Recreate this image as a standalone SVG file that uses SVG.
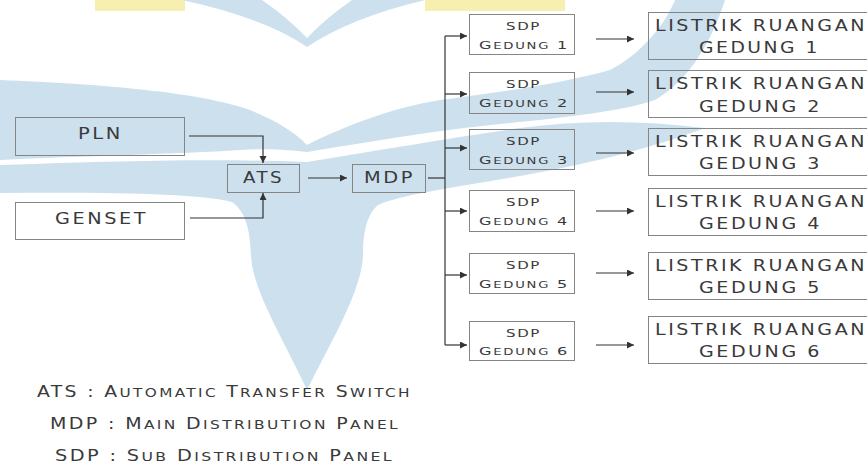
<svg xmlns="http://www.w3.org/2000/svg" width="867" height="466" viewBox="0 0 867 466">
<style>
.wm{fill:#cde0ee;stroke:none}
.wy{fill:#f7efb0;stroke:none}
.box{fill:none;stroke:#858585;stroke-width:1}
.t{font-family:"DejaVu Sans",sans-serif;fill:#3a3a3a;letter-spacing:2px}
.s{letter-spacing:1.2px}
.c{fill:none;stroke:#333;stroke-width:1.2}
</style>
<defs>
<marker id="ah" markerUnits="userSpaceOnUse" markerWidth="8" markerHeight="8" refX="7" refY="3.5" orient="auto">
<path d="M0,0 L7,3.5 L0,7 Z" fill="#333"/>
</marker>
</defs>
<rect width="867" height="466" fill="#ffffff"/>
<g id="watermark">
<rect class="wy" x="95" y="0" width="90" height="11"/>
<rect class="wy" x="425" y="0" width="140" height="11"/>
<path class="wm" d="M182,0 L262,0 Q288,18 307,38 Q326,18 352,0 L425,0 Q350,18 307,47 Q265,18 182,0 Z"/>
<path class="wm" d="M0,80 C100,84 200,92 250,110 C275,120 295,132 307,145 L307,152 C290,150 270,148 240,150 C180,154 80,156 0,160 Z"/>
<path class="wm" d="M307,145 C340,128 390,108 440,100 C500,92 560,84 610,70 C640,55 665,25 675,0 L725,0 C712,40 690,80 655,100 C620,112 560,118 500,124 C440,130 380,140 307,152 Z"/>
<path class="wm" d="M0,165 C100,162 200,158 307,162 C380,150 450,138 520,128 C580,120 640,120 705,128 C660,145 600,162 520,176 C450,188 400,195 378,205 C366,215 363,235 363,255 C362,290 332,340 307,390 C284,340 252,290 251,255 C250,230 246,212 232,202 C200,193 100,192 0,193 Z"/>
</g>
<g id="connectors">
<path class="c" d="M189,136 H263 V163" marker-end="url(#ah)"/>
<path class="c" d="M190,218 H263 V193" marker-end="url(#ah)"/>
<path class="c" d="M308,178 H347" marker-end="url(#ah)"/>
<path class="c" d="M428,178 H445"/>
<path class="c" d="M445,36 V345"/>
<path class="c" d="M445,36 H467" marker-end="url(#ah)"/>
<path class="c" d="M445,94 H467" marker-end="url(#ah)"/>
<path class="c" d="M445,148 H467" marker-end="url(#ah)"/>
<path class="c" d="M445,211 H467" marker-end="url(#ah)"/>
<path class="c" d="M445,275 H467" marker-end="url(#ah)"/>
<path class="c" d="M445,345 H467" marker-end="url(#ah)"/>
<path class="c" d="M596,39 H634" marker-end="url(#ah)"/>
<path class="c" d="M596,92 H634" marker-end="url(#ah)"/>
<path class="c" d="M596,153 H634" marker-end="url(#ah)"/>
<path class="c" d="M596,211 H634" marker-end="url(#ah)"/>
<path class="c" d="M596,273 H634" marker-end="url(#ah)"/>
<path class="c" d="M596,345 H634" marker-end="url(#ah)"/>
</g>
<g id="pln"><rect class="box" x="15.5" y="117.5" width="169" height="38"/><text class="t" x="78" y="139" font-size="15" textLength="45" lengthAdjust="spacingAndGlyphs">PLN</text></g>
<g id="genset"><rect class="box" x="15.5" y="202.5" width="169" height="37"/><text class="t" x="55" y="224" font-size="15" textLength="93" lengthAdjust="spacingAndGlyphs">GENSET</text></g>
<g id="ats"><rect class="box" x="227.5" y="164.5" width="72" height="28"/><text class="t" x="243" y="183" font-size="15" textLength="41" lengthAdjust="spacingAndGlyphs">ATS</text></g>
<g id="mdp"><rect class="box" x="352.5" y="164.5" width="73" height="28"/><text class="t" x="364" y="183" font-size="15" textLength="51" lengthAdjust="spacingAndGlyphs">MDP</text></g>

<g id="sdp1"><rect class="box" x="469.5" y="14.5" width="105" height="40"/><text class="t s" x="506" y="30" font-size="11" textLength="35" lengthAdjust="spacingAndGlyphs">SDP</text><text class="t s" x="479" y="49" font-size="11" textLength="90" lengthAdjust="spacingAndGlyphs">G<tspan font-size="9">EDUNG</tspan> 1</text></g>
<g id="sdp2"><rect class="box" x="469.5" y="72.5" width="105" height="41"/><text class="t s" x="506" y="88" font-size="11" textLength="35" lengthAdjust="spacingAndGlyphs">SDP</text><text class="t s" x="479" y="107" font-size="11" textLength="90" lengthAdjust="spacingAndGlyphs">G<tspan font-size="9">EDUNG</tspan> 2</text></g>
<g id="sdp3"><rect class="box" x="469.5" y="129.5" width="105" height="40"/><text class="t s" x="506" y="145" font-size="11" textLength="35" lengthAdjust="spacingAndGlyphs">SDP</text><text class="t s" x="479" y="164" font-size="11" textLength="90" lengthAdjust="spacingAndGlyphs">G<tspan font-size="9">EDUNG</tspan> 3</text></g>
<g id="sdp4"><rect class="box" x="469.5" y="190.5" width="105" height="41"/><text class="t s" x="506" y="206" font-size="11" textLength="35" lengthAdjust="spacingAndGlyphs">SDP</text><text class="t s" x="479" y="225" font-size="11" textLength="90" lengthAdjust="spacingAndGlyphs">G<tspan font-size="9">EDUNG</tspan> 4</text></g>
<g id="sdp5"><rect class="box" x="469.5" y="253.5" width="105" height="40"/><text class="t s" x="506" y="269" font-size="11" textLength="35" lengthAdjust="spacingAndGlyphs">SDP</text><text class="t s" x="479" y="288" font-size="11" textLength="90" lengthAdjust="spacingAndGlyphs">G<tspan font-size="9">EDUNG</tspan> 5</text></g>
<g id="sdp6"><rect class="box" x="469.5" y="321.5" width="105" height="39"/><text class="t s" x="506" y="337" font-size="11" textLength="35" lengthAdjust="spacingAndGlyphs">SDP</text><text class="t s" x="479" y="355" font-size="11" textLength="90" lengthAdjust="spacingAndGlyphs">G<tspan font-size="9">EDUNG</tspan> 6</text></g>

<g id="lr1"><rect class="box" x="648.5" y="12.5" width="220" height="47"/><text class="t" x="655" y="31" font-size="15" textLength="212" lengthAdjust="spacingAndGlyphs">LISTRIK RUANGAN</text><text class="t" x="699" y="53" font-size="15" textLength="121" lengthAdjust="spacingAndGlyphs">GEDUNG 1</text></g>
<g id="lr2"><rect class="box" x="648.5" y="70.5" width="220" height="47"/><text class="t" x="655" y="89" font-size="15" textLength="212" lengthAdjust="spacingAndGlyphs">LISTRIK RUANGAN</text><text class="t" x="699" y="112" font-size="15" textLength="123" lengthAdjust="spacingAndGlyphs">GEDUNG 2</text></g>
<g id="lr3"><rect class="box" x="648.5" y="128.5" width="220" height="47"/><text class="t" x="655" y="147" font-size="15" textLength="212" lengthAdjust="spacingAndGlyphs">LISTRIK RUANGAN</text><text class="t" x="699" y="169" font-size="15" textLength="123" lengthAdjust="spacingAndGlyphs">GEDUNG 3</text></g>
<g id="lr4"><rect class="box" x="648.5" y="188.5" width="220" height="47"/><text class="t" x="655" y="207" font-size="15" textLength="212" lengthAdjust="spacingAndGlyphs">LISTRIK RUANGAN</text><text class="t" x="699" y="229" font-size="15" textLength="123" lengthAdjust="spacingAndGlyphs">GEDUNG 4</text></g>
<g id="lr5"><rect class="box" x="648.5" y="252.5" width="220" height="47"/><text class="t" x="655" y="271" font-size="15" textLength="212" lengthAdjust="spacingAndGlyphs">LISTRIK RUANGAN</text><text class="t" x="699" y="293" font-size="15" textLength="123" lengthAdjust="spacingAndGlyphs">GEDUNG 5</text></g>
<g id="lr6"><rect class="box" x="648.5" y="316.5" width="220" height="47"/><text class="t" x="655" y="335" font-size="15" textLength="212" lengthAdjust="spacingAndGlyphs">LISTRIK RUANGAN</text><text class="t" x="699" y="357" font-size="15" textLength="123" lengthAdjust="spacingAndGlyphs">GEDUNG 6</text></g>

<g id="legend">
<text class="t" x="37" y="397" font-size="16" textLength="375" lengthAdjust="spacingAndGlyphs">ATS : A<tspan font-size="13">UTOMATIC</tspan> T<tspan font-size="13">RANSFER</tspan> S<tspan font-size="13">WITCH</tspan></text>
<text class="t" x="50" y="429" font-size="16" textLength="350" lengthAdjust="spacingAndGlyphs">MDP : M<tspan font-size="13">AIN</tspan> D<tspan font-size="13">ISTRIBUTION</tspan> P<tspan font-size="13">ANEL</tspan></text>
<text class="t" x="55" y="461" font-size="16" textLength="339" lengthAdjust="spacingAndGlyphs">SDP : S<tspan font-size="13">UB</tspan> D<tspan font-size="13">ISTRIBUTION</tspan> P<tspan font-size="13">ANEL</tspan></text>
</g>
</svg>
